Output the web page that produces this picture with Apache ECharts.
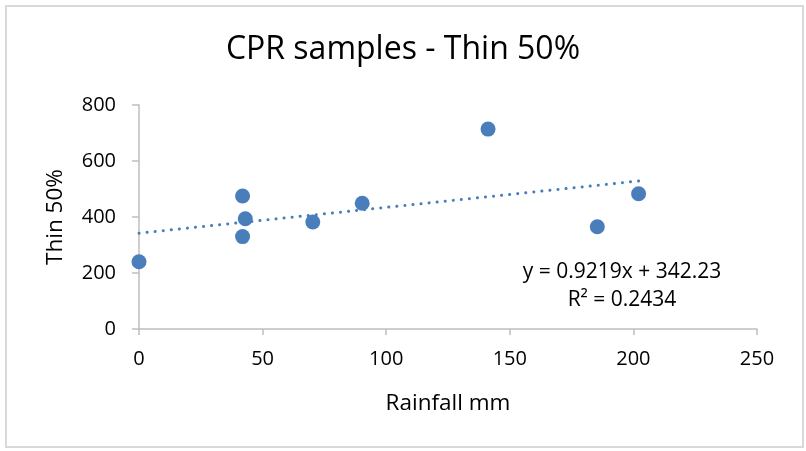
<!DOCTYPE html>
<html>
<head>
<meta charset="utf-8">
<script src="https://cdn.jsdelivr.net/npm/echarts@6/dist/echarts.min.js"></script>
<style>html,body{margin:0;padding:0;background:#fff;}#c{width:806px;height:451px;}</style>
</head>
<body>
<div id="c"></div>
<script>
const rainfall = [0, 41.9, 43.0, 41.9, 70.3, 90.3, 141.2, 202.1, 185.4];
const thin50 = [240, 475, 394, 330, 382, 449, 714, 483, 365];
const slope = 0.9219;
const intercept = 342.23;
const eqLabel = 'y = 0.9219x + 342.23';
const r2Label = 'R² = 0.2434';
const titleText = 'CPR samples - Thin 50%';
const xName = 'Rainfall mm';
const yName = 'Thin 50%';

const FONT = '"Open Sans", Lato, sans-serif';
const blue = '#4a7ebb';
const axisGray = '#bfbfbf';

const pts = rainfall.map((x, i) => [x, thin50[i]]);
const xMin = Math.min(...rainfall), xMax = Math.max(...rainfall);
const trend = [[xMin, slope * xMin + intercept], [xMax, slope * xMax + intercept]];

const chart = echarts.init(document.getElementById('c'));
chart.setOption({
  animation: false,
  backgroundColor: '#fff',
  title: {
    text: titleText, left: 'center', top: 29,
    textStyle: { fontFamily: FONT, fontSize: 32, fontWeight: 'normal', color: '#000' }
  },
  grid: { left: 139, right: 49, top: 105, bottom: 122 },
  xAxis: {
    type: 'value', min: 0, max: 250, interval: 50,
    name: xName, nameLocation: 'middle', nameGap: 63,
    nameTextStyle: { fontFamily: FONT, fontSize: 22.5, color: '#000' },
    axisLine: { show: true, lineStyle: { color: axisGray, width: 1.5 } },
    axisTick: { show: true, length: 6, lineStyle: { color: axisGray, width: 1.5 } },
    axisLabel: { fontFamily: FONT, fontSize: 20, color: '#000', margin: 20 },
    splitLine: { show: false }
  },
  yAxis: {
    type: 'value', min: 0, max: 800, interval: 200,
    name: yName, nameLocation: 'middle', nameGap: 72, nameRotate: 90,
    nameTextStyle: { fontFamily: FONT, fontSize: 22.5, color: '#000' },
    axisLine: { show: true, lineStyle: { color: axisGray, width: 1.5 } },
    axisTick: { show: true, length: 7, lineStyle: { color: axisGray, width: 1.5 } },
    axisLabel: { fontFamily: FONT, fontSize: 20, color: '#000', margin: 23 },
    splitLine: { show: false }
  },
  series: [
    {
      type: 'line', data: trend, symbol: 'none', z: 2,
      lineStyle: { color: blue, width: 3, type: [0.1, 8], cap: 'round' }
    },
    {
      type: 'scatter', data: pts, symbolSize: 15, z: 3,
      itemStyle: { color: blue, opacity: 1 }
    }
  ],
  graphic: [
    {
      type: 'rect', shape: { x: 6, y: 6, width: 797, height: 441 },
      style: { fill: 'none', stroke: '#d9d9d9', lineWidth: 2 }, silent: true
    },
    {
      type: 'text',
      style: { x: 622, y: 272, text: eqLabel, font: '21px ' + FONT, fill: '#000', textAlign: 'center', textVerticalAlign: 'middle' }
    },
    {
      type: 'text',
      style: { x: 622, y: 300, text: r2Label, font: '21px ' + FONT, fill: '#000', textAlign: 'center', textVerticalAlign: 'middle' }
    }
  ]
});
</script>
</body>
</html>
